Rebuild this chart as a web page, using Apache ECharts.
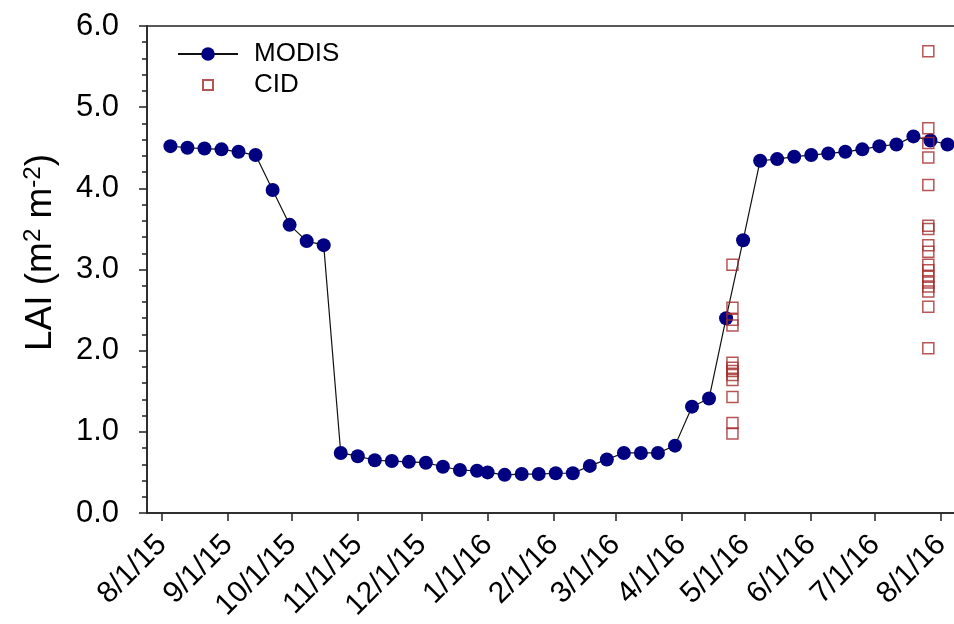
<!DOCTYPE html>
<html>
<head>
<meta charset="utf-8">
<script src="https://cdn.jsdelivr.net/npm/echarts@6/dist/echarts.min.js"></script>
<style>
  html, body { margin: 0; padding: 0; background: #fff; }
  #chart { width: 954px; height: 624px; }
</style>
</head>
<body>
<div id="chart"></div>
<script>
// MODIS 8-day composite LAI
const modisDates = [
  '2015-08-05', '2015-08-13', '2015-08-21', '2015-08-29', '2015-09-06', '2015-09-14',
  '2015-09-22', '2015-09-30', '2015-10-08', '2015-10-16', '2015-10-24', '2015-11-01',
  '2015-11-09', '2015-11-17', '2015-11-25', '2015-12-03', '2015-12-11', '2015-12-19',
  '2015-12-27',
  '2016-01-01', '2016-01-09', '2016-01-17', '2016-01-25', '2016-02-02', '2016-02-10',
  '2016-02-18', '2016-02-26', '2016-03-05', '2016-03-13', '2016-03-21', '2016-03-29',
  '2016-04-06', '2016-04-14', '2016-04-22', '2016-04-30', '2016-05-08', '2016-05-16',
  '2016-05-24', '2016-06-01', '2016-06-09', '2016-06-17', '2016-06-25', '2016-07-03',
  '2016-07-11', '2016-07-19', '2016-07-27', '2016-08-04'
];
const modisLAI = [
  4.52, 4.50, 4.49, 4.48, 4.45, 4.41,
  3.98, 3.55, 3.35, 3.30, 0.74, 0.70,
  0.65, 0.64, 0.63, 0.62, 0.57, 0.53,
  0.52,
  0.50, 0.47, 0.48, 0.48, 0.49, 0.49,
  0.58, 0.66, 0.74, 0.74, 0.74, 0.83,
  1.31, 1.41, 2.40, 3.36, 4.34, 4.36,
  4.39, 4.41, 4.43, 4.45, 4.48, 4.52,
  4.54, 4.64, 4.59, 4.54
];

// CID field measurements (two sampling campaigns)
const cidDates = [
  '2016-04-25', '2016-04-25', '2016-04-25', '2016-04-25', '2016-04-25', '2016-04-25',
  '2016-04-25', '2016-04-25', '2016-04-25', '2016-04-25', '2016-04-25', '2016-04-25',
  '2016-07-26', '2016-07-26', '2016-07-26', '2016-07-26', '2016-07-26', '2016-07-26',
  '2016-07-26', '2016-07-26', '2016-07-26', '2016-07-26', '2016-07-26', '2016-07-26',
  '2016-07-26', '2016-07-26', '2016-07-26', '2016-07-26', '2016-07-26'
];
const cidLAI = [
  3.06, 2.53, 2.38, 2.31, 1.85, 1.79, 1.75, 1.70, 1.64, 1.43, 1.11, 0.98,
  5.69, 4.74, 4.56, 4.38, 4.04, 3.54, 3.50, 3.30, 3.22, 3.06, 2.99, 2.91,
  2.84, 2.79, 2.73, 2.54, 2.03
];

// x-axis ticks (month starts) and their labels
const xTickDates = [
  '2015-08-01', '2015-09-01', '2015-10-01', '2015-11-01', '2015-12-01', '2016-01-01', '2016-02-01',
  '2016-03-01', '2016-04-01', '2016-05-01', '2016-06-01', '2016-07-01', '2016-08-01'
];
const xTickLabels = [
  '8/1/15', '9/1/15', '10/1/15', '11/1/15', '12/1/15', '1/1/16', '2/1/16',
  '3/1/16', '4/1/16', '5/1/16', '6/1/16', '7/1/16', '8/1/16'
];
const xStart = '2015-07-25';
const xEnd = '2016-08-08';

// dates become day numbers (UTC) so the axis is a plain linear value scale
const DAY = 86400000;
function dayNum(s) {
  const p = s.split('-').map(Number);
  return Math.round(Date.UTC(p[0], p[1] - 1, p[2]) / DAY);
}

const tickDays = xTickDates.map(dayNum);
const labelByDay = {};
tickDays.forEach((t, i) => { labelByDay[t] = xTickLabels[i]; });

const FONT = 'Arial, "Liberation Sans", sans-serif';
const AXIS_COLOR = '#222';
const CID_COLOR = '#a52a2a';

const chart = echarts.init(document.getElementById('chart'), null, { renderer: 'canvas' });

chart.setOption({
  animation: false,
  backgroundColor: '#fff',
  grid: {
    left: 147, right: -2, top: 26, bottom: 111,
    outerBoundsMode: 'none',
    containLabel: false,
    show: true, borderColor: AXIS_COLOR, borderWidth: 1.5, backgroundColor: 'transparent'
  },
  legend: [
    {
      data: ['MODIS'],
      left: 172, top: 36,
      itemWidth: 60, itemHeight: 17,
      textStyle: { fontFamily: FONT, fontSize: 26, color: '#000', padding: [0, 0, 0, 11] },
      selectedMode: false
    },
    {
      data: [{ name: 'CID', icon: 'rect' }],
      left: 197, top: 67,
      itemWidth: 10, itemHeight: 10,
      textStyle: { fontFamily: FONT, fontSize: 26, color: '#000', padding: [0, 0, 0, 36] },
      selectedMode: false
    }
  ],
  xAxis: {
    type: 'value',
    min: dayNum(xStart),
    max: dayNum(xEnd),
    axisLine: { show: true, onZero: false, lineStyle: { color: AXIS_COLOR, width: 1.5 } },
    axisTick: {
      show: true, inside: false, length: 8, customValues: tickDays,
      lineStyle: { color: AXIS_COLOR, width: 1.5 }
    },
    axisLabel: {
      customValues: tickDays,
      formatter: v => labelByDay[v] || '',
      rotate: 45,
      verticalAlign: 'middle',
      padding: [34, 0, 0, 0],
      fontFamily: FONT, fontSize: 30, color: '#000',
      margin: 27
    },
    splitLine: { show: false },
    minorTick: { show: false }
  },
  yAxis: {
    type: 'value',
    min: 0, max: 6, interval: 1,
    name: 'LAI (m{sup|2} m{sup|-2})',
    nameLocation: 'middle',
    nameRotate: 90,
    nameGap: 86,
    nameTextStyle: {
      fontFamily: FONT, fontSize: 37, color: '#000',
      padding: [0, 0, 0, 34],
      rich: { sup: { fontFamily: FONT, fontSize: 24, color: '#000', verticalAlign: 'top', padding: [0, 0, 16, 0] } }
    },
    axisLine: { show: true, lineStyle: { color: AXIS_COLOR, width: 1.5 } },
    axisTick: { show: true, inside: false, length: 8, lineStyle: { color: AXIS_COLOR, width: 1.5 } },
    minorTick: { show: true, splitNumber: 5, length: 5, lineStyle: { color: AXIS_COLOR, width: 1.5 } },
    axisLabel: {
      fontFamily: FONT, fontSize: 31, color: '#000', margin: 28,
      formatter: v => v.toFixed(1)
    },
    splitLine: { show: false }
  },
  series: [
    {
      name: 'MODIS',
      type: 'line',
      data: modisDates.map((d, i) => [dayNum(d), modisLAI[i]]),
      symbol: 'circle',
      symbolSize: 14,
      itemStyle: { color: '#000080' },
      lineStyle: { color: '#111', width: 1.2 },
      z: 2
    },
    {
      name: 'CID',
      type: 'scatter',
      data: cidDates.map((d, i) => [dayNum(d), cidLAI[i]]),
      symbol: 'rect',
      symbolSize: 11,
      itemStyle: { color: 'transparent', borderColor: CID_COLOR, borderWidth: 1.5 },
      z: 3
    }
  ]
});
</script>
</body>
</html>
